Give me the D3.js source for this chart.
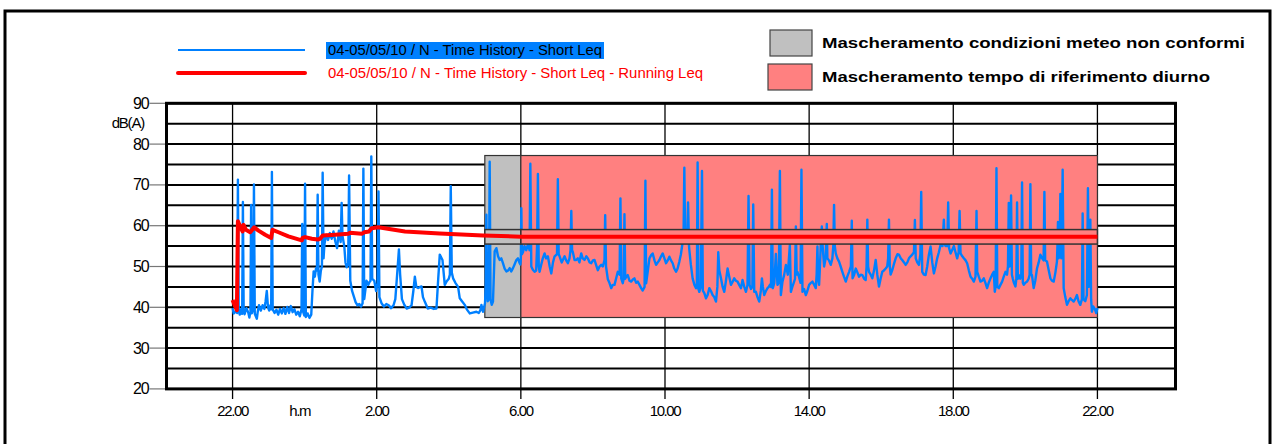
<!DOCTYPE html>
<html><head><meta charset="utf-8">
<script src="https://cdn.jsdelivr.net/npm/d3@7"></script>
<style>body{margin:0;background:#fff;overflow:hidden} svg{display:block} text{font-family:Arial,"Liberation Sans",sans-serif}</style>
</head><body><svg id="c" width="1276" height="444"></svg>
<script>
// ---- data (time in minutes after 22:00, level in dB(A)) ----
const yTickValues=[20,30,40,50,60,70,80,90];
const yGridValues=[20,25,30,35,40,45,50,55,60,65,70,75,80,85,90];
const xTickMinutes=[0,240,480,720,960,1200,1440];
const xTickLabels=["22.00","2.00","6.00","10.00","14.00","18.00","22.00"];
const xUnitLabel="h.m";
const maskWeather=[420,480];
const maskDay=[480,1440];
const maskLevels=[37.5,77.2];
const bandLevels=[55.5,59.05];
const seriesNames=["04-05/05/10 / N - Time History - Short Leq","04-05/05/10 / N - Time History - Short Leq - Running Leq"];
const maskNames=["Mascheramento condizioni meteo non conformi","Mascheramento tempo di riferimento diurno"];
const shortLeq=[[0,39.8],[2,38.5],[5,39],[7.5,38.6],[8.9,71.3],[10.2,39.2],[12,38.2],[14,39.5],[16,38.4],[17.2,65.8],[18.5,39],[20,38.3],[23,39.8],[26,38.8],[28,37.5],[29.8,39],[30.9,65.1],[32,38.5],[34.3,39.5],[35.6,70.1],[37,38.4],[40.4,37.2],[42,39],[44,40.5],[47,39.2],[50,40.5],[53,39.6],[55,41.5],[57,44.0],[59,40],[61,39.2],[63,40.5],[64.3,39.5],[65.5,73.2],[66.8,39.5],[70,38.6],[73,39.4],[76,38.2],[79,39.6],[82,38.5],[85,39.8],[88,38.4],[91,40.1],[94,38.6],[97,40.3],[100,38.8],[103,39.5],[106,38.2],[109,38.9],[112,37.8],[114.8,39.5],[116,60.4],[117.3,39],[119.4,38],[120.7,70.3],[122,37.6],[125,38.5],[128,37.4],[131,38.2],[133,44],[135,48.8],[137,47.5],[139,49.6],[140.5,49],[141.7,67.6],[143,48],[145,46.3],[147,49],[148.8,50],[150,73.0],[151.5,52],[153,55.5],[156,57.8],[159,56.5],[162,58.2],[165,56.8],[168,58.6],[171,56.2],[174,54.5],[177,58.8],[180,56],[181.6,65.6],[183,57.5],[186,55],[188,51],[190,49.8],[192.5,50.5],[194,72.3],[196,46.5],[199,44],[202,42.6],[205,41.2],[208,40.5],[211,40.8],[214,40.2],[216.5,41],[217.8,74.0],[219.2,42],[223,46.5],[226,45.5],[228,46.2],[229.7,46.5],[231,77.0],[232.5,47],[236,46.5],[239,44],[241.5,46],[243,68.4],[244.5,42.5],[248,41],[252,40.2],[256,40.8],[260,40.5],[264,39.8],[268,40.5],[271,42],[274,48],[277,54.2],[279,48],[282,42],[286,40.6],[290,39.7],[294,39.9],[298,40.5],[301,44],[303.5,47.5],[306,45],[309,44.7],[312,45],[314.6,45.1],[317,42.5],[320,41.4],[325,39.7],[330,39.9],[335,39.6],[339.5,39.7],[342,46],[345,52.9],[349.5,51.6],[353.3,45.5],[356.2,46.3],[360,47],[361.8,48],[363.3,69.7],[365,48.5],[367.2,47.1],[371,46],[375.5,45],[378.3,42.2],[382,41.5],[386.6,40.6],[390,39.5],[394.9,38.5],[400,38.7],[406,38.9],[410,38.6],[412.7,39.3],[414.3,40.6],[417,38.9],[420.3,41],[421.5,45],[422.6,62.7],[423.8,45],[424.8,41.5],[426.8,42],[428.1,75.7],[429.5,42],[431.5,40.6],[433.6,41.4],[436.4,53.7],[439.3,54.5],[442,52.5],[444.8,51.6],[447.5,52],[450.2,50.8],[453,49.5],[455.9,48.8],[458.5,49],[461.4,49.6],[464,48.8],[466.9,49.6],[469.5,50.5],[472.5,51.6],[475.2,52],[477.5,51],[479.2,50.5],
[480,52],[480.8,64.3],[481.8,53],[483.5,53.5],[486,55],[489,54],[492,55.5],[494.5,54],[495.8,75.2],[497.4,50.0],[500,49.2],[502.9,48.7],[505.5,49],[507,55],[508.4,72.7],[509.8,50],[511.2,48.7],[514,50.5],[516.5,52],[519.5,53.2],[522,52],[525,52.5],[528,50],[530.7,48.3],[533.5,51],[536.2,52.5],[540.2,53],[541.6,71.4],[543,53],[544.5,52.5],[548,51],[552.8,52.5],[555.5,51.5],[558.3,50.8],[561,52],[562.7,54],[564,63.6],[565.3,54],[566.6,53.5],[569.4,51.6],[572.2,51.6],[574.9,52.0],[577.5,51],[580.5,53.2],[583,52],[586,51.6],[589,52.5],[591.5,52.0],[594.5,51],[597.2,50.8],[600,51.5],[602.6,51.6],[605,50.5],[608.1,49.1],[611,50],[613.8,50.4],[616.5,50],[619.3,51.6],[620.4,62.6],[621.8,50],[624.8,46.9],[627.5,46],[630.4,44.7],[633,45.5],[635.9,45.5],[638.5,47],[641.4,48.7],[644.4,48],[645.8,66.7],[647.2,47],[649.7,45.9],[651.2,47],[652.5,62.8],[653.8,47],[655.5,47.5],[658,47.9],[661,46.5],[663.6,46.3],[666.5,46.8],[669.1,47.1],[672,46],[674.6,46.3],[677.5,45.5],[680.3,44.7],[682.9,44.1],[686,45],[687.4,71.0],[688.6,45.9],[691.5,49],[694.1,52.0],[697,52.8],[699.5,53.2],[702.5,51.5],[705.2,50.4],[708,51],[710.7,51.6],[713.5,52.5],[716.2,53.2],[719,52],[721.8,50.8],[724.5,51.5],[727.3,52.4],[730,51.5],[732.8,50.8],[735.5,49.5],[738.4,48.7],[741,49.5],[743.9,51.2],[746.5,53],[749.4,56],[750.8,56.5],[752.2,74.2],[753.5,57],[755,57],[756.8,56],[758.4,65.7],[760,55],[760.5,54.1],[763,50.5],[766,47.1],[769,45.5],[771.7,44.7],[773,45],[774.3,75.5],[775.6,44.5],[777.1,43.8],[779.5,45],[781.6,73.4],[783,44.1],[785.5,43.5],[788.3,42.2],[791,43],[793.8,44.7],[796.5,44],[799.3,43.0],[802,42.5],[804.9,41.4],[807.2,45],[808.7,53.5],[810.5,49],[813.2,47.1],[816,45],[818.7,43.8],[821.5,46.5],[824.2,49.5],[827,47.5],[829.8,45.5],[832.5,46.2],[835.3,47.1],[838,46.5],[840.8,46.3],[843.5,45.5],[846.5,44.7],[849.1,46.7],[852,45],[854.8,43.8],[857.4,45.5],[859.1,67.3],[860.8,45.5],[863.1,44.5],[865.5,45],[866.9,65.2],[868.6,43.8],[871.4,43.8],[874,42.5],[876.9,41.4],[879.5,44],[881.4,47.1],[883,45],[885.2,43],[888,44],[890.7,44.7],[892.8,45],[894.7,45.5],[896.5,45],[898,68.8],[899.5,44.7],[902,46],[904.6,53.1],[906,49],[907.3,45.5],[909.5,46],[911.3,73.4],[912.9,43],[915.6,46.3],[918.5,48],[921.3,50.4],[924.5,48],[927.9,55.3],[929.6,43.8],[932,45],[935,46.3],[936.5,47],[937.9,59.8],[939.3,48],[940.5,48.7],[943,47.5],[945.7,46],[947.2,73.7],[948.9,43.8],[951.5,44.5],[954.5,43],[957,44],[960,45.5],[963,46],[965.5,46.3],[968.5,45.5],[971.1,44.7],[972.5,48],[973.8,54.9],[975.2,47],[976.6,45.5],[978,50],[979.4,55.3],[980.3,57],[981.1,59.8],[982.5,55],[984.9,50],[987.5,52],[989.4,60.4],[990.4,52],[993,51.5],[996,50.4],[998.7,52],[1000.2,55],[1001.5,65.1],[1002.8,55],[1004.3,53.2],[1007,52],[1009.8,51.2],[1012.5,50],[1015.3,48.7],[1018,47.5],[1021,46.3],[1023.5,47.5],[1026.5,48.7],[1029.5,50],[1031,61.2],[1032.3,47.1],[1035,48],[1037.6,49.5],[1040.5,48.5],[1043.1,47.5],[1046,48],[1048.6,47.9],[1051.5,47],[1054.2,46.7],[1055.6,50],[1056.9,61.5],[1058.2,50],[1059.7,48.7],[1062.5,48],[1065.2,47.1],[1068,49],[1070.8,51.6],[1073.5,48],[1076.3,45.1],[1079,47],[1081.8,48.7],[1084.5,49],[1087.4,49.5],[1090,50],[1091.5,52],[1092.9,61.5],[1094.3,50],[1095.7,48],[1098.4,49.1],[1101,50.5],[1104.1,52],[1107,53],[1109.6,52.9],[1112.5,52],[1115,51.6],[1118,51],[1120.7,50.4],[1123.5,51],[1126.2,52],[1129,52.5],[1131.7,52.9],[1134.5,53.5],[1136.1,61.4],[1137.5,52],[1140,51],[1142.8,50.4],[1145.2,53],[1146.6,68.3],[1148.3,48.7],[1151,48],[1153.9,47.9],[1156.6,50],[1159.4,52.9],[1162.2,54.9],[1165,51],[1167.7,48.3],[1170.5,50],[1173.2,52],[1176,53.5],[1178.9,55.3],[1182,55],[1184.3,61.5],[1185.7,55.5],[1187.2,55],[1190,55],[1191.5,65.7],[1193,54.5],[1195.5,53.2],[1198,54],[1201,55],[1203.7,53.5],[1206.5,52],[1209,53.5],[1210.5,63.6],[1212.1,53.2],[1215,52.5],[1217.6,52],[1220.5,51.5],[1223.1,50.8],[1226,49],[1228.8,47.5],[1231.5,47],[1234.2,46.3],[1237,47.5],[1238.7,63.6],[1239.9,48.7],[1242.5,47.5],[1245.3,46.3],[1248,46.5],[1250.8,47.1],[1253.5,46],[1256.3,44.7],[1259,46],[1262,47.1],[1264.7,48],[1267.4,48.7],[1269.1,43.8],[1270.5,45],[1271.9,74.1],[1273.3,45],[1275.8,44.7],[1278.5,45.5],[1281.3,46.3],[1284,47.5],[1286.9,48.7],[1289.5,48],[1291,50],[1292.4,65.6],[1293.8,50],[1295,52],[1296.2,67.4],[1297.6,48],[1299,47.1],[1301,46],[1303.5,45.1],[1305,47],[1306.2,65.7],[1307.5,47],[1309,47.9],[1311.5,47],[1313.2,48],[1314.5,70.6],[1315.8,46],[1317.3,45.5],[1320,46],[1322.8,46.3],[1325.5,47],[1327.1,48],[1328.4,70.2],[1329.7,48],[1331,47.9],[1333.9,44.7],[1336.5,46.5],[1339.4,49.5],[1342.2,51],[1345,52.9],[1348,52],[1350.4,51.5],[1351.7,68.3],[1353,51.5],[1356,51.2],[1359,49],[1361.7,47.1],[1364.5,46.5],[1367.2,46.3],[1370,48.5],[1372.6,51.2],[1373.4,55],[1374.3,60.9],[1375.5,52],[1377,53],[1378.3,67.8],[1379.8,52],[1380.8,56],[1382.1,73.7],[1383.8,44.7],[1386.5,42.5],[1389.3,40.6],[1392,41.5],[1394.9,42.2],[1397.5,41.8],[1400.4,41.4],[1403,42],[1405.9,43],[1408.5,41.5],[1411.5,40.6],[1414.2,42],[1415.4,63.0],[1416.8,42],[1419.8,41.5],[1422.5,43],[1424.2,69.2],[1425.8,45],[1427,47],[1428.2,61.5],[1429.5,42],[1430.8,38.9],[1433,40.2],[1436,39.5],[1438,38.6],[1440,39.8]];
const runningLeq=[[0,41.8],[3.5,40.5],[7.2,39.3],[8.9,61.1],[12.7,59.8],[16.6,58.6],[18.3,60.2],[22.2,59],[29.4,58.4],[36,59.6],[43.2,58.8],[54.3,57.8],[64.3,57],[66.5,59],[76.5,58.4],[93,57.4],[115.2,56.4],[116.5,57],[120.8,57.2],[131.9,56.8],[141.7,56.6],[145.7,56.8],[150.1,57.6],[170.6,57.8],[192.8,58],[195.6,58.3],[215,58],[219.4,58.4],[227.1,58.6],[231.6,59.4],[242.7,59.6],[287,58.6],[345,58.1],[417,57.6],[480,57.3],[1440,57.3]];

// ---- drawing ----
const svg=d3.select("#c");
const L=166.5,R=1175.5,T=103.3,B=388.9;
const x=d3.scaleLinear().domain([-110,1570]).range([L,R]);
const y=d3.scaleLinear().domain([20,90]).range([B,T]);

// outer frame
svg.append("rect").attr("x",5).attr("y",11).attr("width",1265).attr("height",460)
  .attr("fill","#fff").attr("stroke","#000").attr("stroke-width",3);

svg.append("defs").append("clipPath").attr("id","clip").append("rect")
  .attr("x",L).attr("y",T).attr("width",R-L).attr("height",B-T);

const g=svg.append("g");
// horizontal grid
g.selectAll("line.hg").data(yGridValues).join("line").attr("class","hg")
  .attr("x1",L).attr("x2",R).attr("y1",d=>y(d)).attr("y2",d=>y(d))
  .attr("stroke","#000").attr("stroke-width",2);
// vertical grid + ticks below
g.selectAll("line.vg").data(xTickMinutes).join("line").attr("class","vg")
  .attr("x1",d=>x(d)).attr("x2",d=>x(d)).attr("y1",T).attr("y2",B+10)
  .attr("stroke","#000").attr("stroke-width",1.3);
// y ticks left
g.selectAll("line.yt").data(yTickValues).join("line").attr("class","yt")
  .attr("x1",L-17).attr("x2",L).attr("y1",d=>y(d)).attr("y2",d=>y(d))
  .attr("stroke","#777").attr("stroke-width",1.2);

// masks
const masks=[{r:maskWeather,c:"#c0c0c0"},{r:maskDay,c:"#ff8080"}];
g.selectAll("rect.mask").data(masks).join("rect").attr("class","mask")
  .attr("x",d=>x(d.r[0])).attr("width",d=>x(d.r[1])-x(d.r[0]))
  .attr("y",y(maskLevels[1])).attr("height",y(maskLevels[0])-y(maskLevels[1]))
  .attr("fill",d=>d.c).attr("stroke","#333").attr("stroke-width",1.2);

// short leq
const line=d3.line().x(d=>x(d[0])).y(d=>y(d[1]));
g.append("path").datum(shortLeq).attr("d",line).attr("clip-path","url(#clip)")
  .attr("fill","none").attr("stroke","#0080ff").attr("stroke-width",2.4).attr("stroke-linejoin","round");

// band over masks
g.selectAll("rect.band").data(masks).join("rect").attr("class","band")
  .attr("x",d=>x(d.r[0])).attr("width",d=>x(d.r[1])-x(d.r[0]))
  .attr("y",y(bandLevels[1])).attr("height",y(bandLevels[0])-y(bandLevels[1]))
  .attr("fill",d=>d.c).attr("stroke","#333").attr("stroke-width",1.5);

// running leq
g.append("path").datum(runningLeq).attr("d",line)
  .attr("fill","none").attr("stroke","#ff0000").attr("stroke-width",4).attr("stroke-linejoin","round");

// plot border
g.append("rect").attr("x",L).attr("y",T).attr("width",R-L).attr("height",B-T)
  .attr("fill","none").attr("stroke","#000").attr("stroke-width",3);

// y labels
g.selectAll("text.yl").data(yTickValues).join("text").attr("class","yl")
  .attr("x",L-18).attr("y",d=>y(d)+5.5).attr("text-anchor","end")
  .attr("font-size",16).attr("letter-spacing",-1.2).text(d=>d);
g.append("text").attr("x",144).attr("y",128).attr("text-anchor","end")
  .attr("font-size",15).attr("letter-spacing",-1.2).text("dB(A)");
// x labels
g.selectAll("text.xl").data(xTickMinutes).join("text").attr("class","xl")
  .attr("x",d=>x(d)).attr("y",416).attr("text-anchor","middle")
  .attr("font-size",15).attr("letter-spacing",-1.4).text((d,i)=>xTickLabels[i]);
g.append("text").attr("x",x(120)-5).attr("y",416).attr("text-anchor","middle")
  .attr("font-size",15).attr("letter-spacing",-1.4).text(xUnitLabel);

// legend left
const lg=svg.append("g");
lg.append("rect").attr("x",326).attr("y",42).attr("width",278).attr("height",17).attr("fill","#0080ff");
lg.append("line").attr("x1",178).attr("x2",305).attr("y1",50).attr("y2",50).attr("stroke","#0080ff").attr("stroke-width",2);
lg.append("line").attr("x1",178).attr("x2",305).attr("y1",73).attr("y2",73).attr("stroke","#ff0000").attr("stroke-width",4).attr("stroke-linecap","round");
lg.append("text").attr("x",328).attr("y",55).attr("font-size",14).attr("textLength",274).attr("lengthAdjust","spacingAndGlyphs").attr("fill","#000").text(seriesNames[0]);
lg.append("text").attr("x",328).attr("y",78).attr("font-size",14).attr("textLength",375).attr("lengthAdjust","spacingAndGlyphs").attr("fill","#ff0000").text(seriesNames[1]);
// legend right
lg.append("rect").attr("x",770).attr("y",30).attr("width",42).attr("height",26).attr("fill","#c0c0c0").attr("stroke","#444").attr("stroke-width",1.2);
lg.append("rect").attr("x",768).attr("y",64).attr("width",44).attr("height",26).attr("fill","#ff8080").attr("stroke","#444").attr("stroke-width",1.2);
lg.append("text").attr("x",822).attr("y",48).attr("font-size",15).attr("font-weight","bold").attr("textLength",423).attr("lengthAdjust","spacingAndGlyphs").text(maskNames[0]);
lg.append("text").attr("x",822).attr("y",82).attr("font-size",15).attr("font-weight","bold").attr("textLength",388).attr("lengthAdjust","spacingAndGlyphs").text(maskNames[1]);
</script></body></html>
